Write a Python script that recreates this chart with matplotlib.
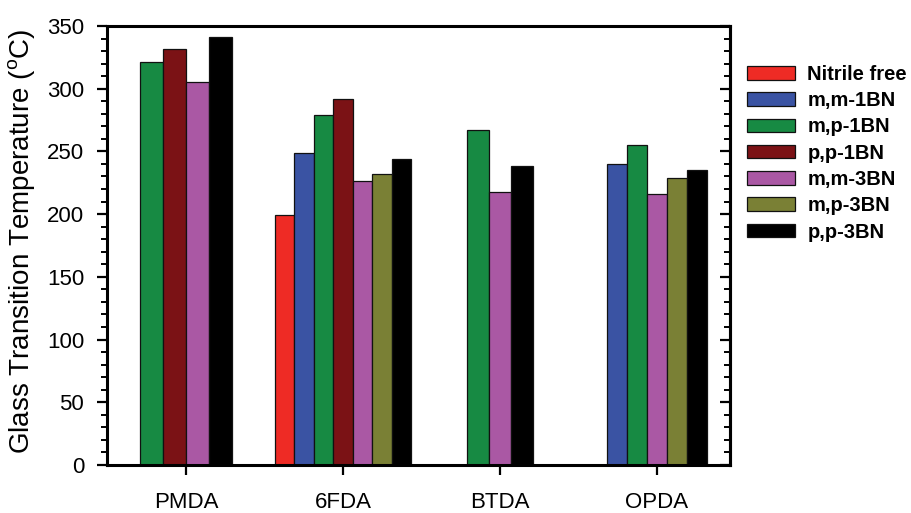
import numpy as np
import matplotlib
matplotlib.use("Agg")
import matplotlib.pyplot as plt
from matplotlib.ticker import MultipleLocator

plt.rcParams["font.family"] = ["Liberation Sans", "DejaVu Sans"]
plt.rcParams["mathtext.fontset"] = "custom"
plt.rcParams["mathtext.rm"] = "Liberation Sans"

categories = ["PMDA", "6FDA", "BTDA", "OPDA"]
series = ["Nitrile free", "m,m-1BN", "m,p-1BN", "p,p-1BN", "m,m-3BN", "m,p-3BN", "p,p-3BN"]
nan = np.nan
nitrile_free = [nan, 199, nan, nan]
mm_1bn = [nan, 249, nan, 240]
mp_1bn = [321, 279, 267, 255]
pp_1bn = [332, 292, nan, nan]
mm_3bn = [305, 226, 218, 216]
mp_3bn = [nan, 232, nan, 229]
pp_3bn = [341, 244, 238, 235]
values = [nitrile_free, mm_1bn, mp_1bn, pp_1bn, mm_3bn, mp_3bn, pp_3bn]

COLORS = ["#ee2b25", "#3a53a3", "#178a43", "#7b1215", "#aa58a4", "#7a8035", "#000000"]
GROUP_WIDTH = [0.146, 0.124, 0.140, 0.127]  # bar width per group

fig = plt.figure(figsize=(9.12, 5.13), dpi=100)
ax = fig.add_axes([0.1173, 0.0936, 0.6831, 0.8558])

data = np.array(values, dtype=float)
handles = [None] * len(series)
for gi, cat in enumerate(categories):
    present = [si for si in range(len(series)) if not np.isnan(data[si, gi])]
    w = GROUP_WIDTH[gi]
    n = len(present)
    for k, si in enumerate(present):
        x = gi + (k - (n - 1) / 2) * w
        b = ax.bar(x, data[si, gi], width=w, color=COLORS[si],
                   edgecolor="#111111", linewidth=0.9)
        handles[si] = b

ax.set_xlim(-0.503, 3.465)
ax.set_ylim(0, 350)
ax.set_xticks(range(len(categories)))
ax.set_xticklabels(categories, fontsize=16)
ax.yaxis.set_major_locator(MultipleLocator(50))
ax.yaxis.set_minor_locator(MultipleLocator(10))
ax.tick_params(axis="y", which="major", direction="out", length=7.5, width=1.6,
               labelsize=16, pad=9)
ax.tick_params(axis="y", which="minor", direction="out", length=4.5, width=1.4)
ax.tick_params(axis="x", which="major", direction="out", length=7.5, width=1.6,
               pad=12)
for s in ax.spines.values():
    s.set_linewidth(2.2)

# right axis: ticks pointing inward, no labels
sec = ax.secondary_yaxis("right")
sec.yaxis.set_major_locator(MultipleLocator(50))
sec.yaxis.set_minor_locator(MultipleLocator(10))
sec.tick_params(which="major", direction="in", length=7.5, width=1.6, labelright=False)
sec.tick_params(which="minor", direction="in", length=4.5, width=1.4)
sec.spines["right"].set_linewidth(2.2)

ax.set_ylabel("Glass Transition Temperature ($\\mathregular{^{o}}$C)", fontsize=20)
ax.yaxis.set_label_coords(-0.112, 0.51)

ax.legend(handles, series, loc="upper left",
          bbox_to_anchor=(747 / 912, (513 - 65) / 513),
          bbox_transform=fig.transFigure, frameon=False,
          prop={"weight": "bold", "size": 14.5}, borderpad=0, borderaxespad=0,
          handlelength=2.4, handleheight=0.65, handletextpad=0.6,
          labelspacing=0.36)

fig.savefig("out.png", dpi=100)
